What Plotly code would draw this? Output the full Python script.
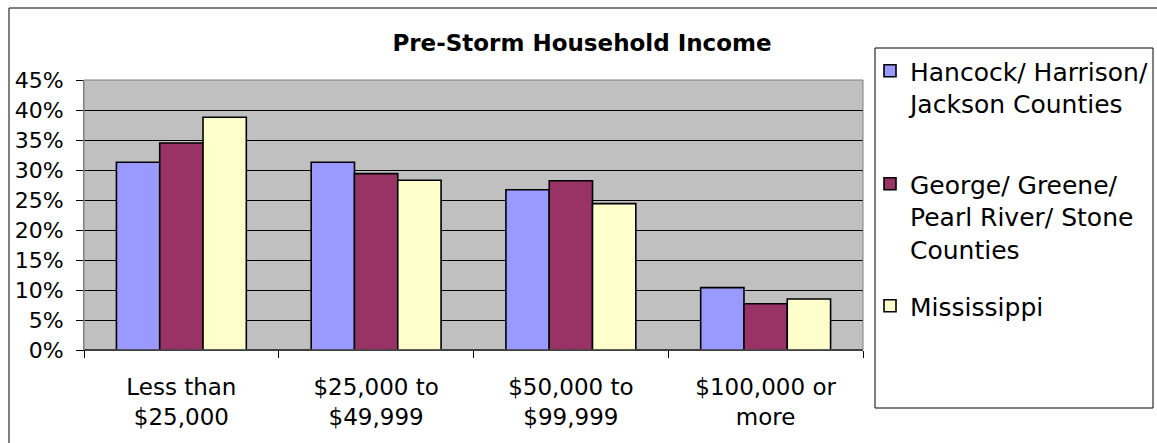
import plotly.graph_objects as go

categories = ["Less than<br>$25,000", "$25,000 to<br>$49,999", "$50,000 to<br>$99,999", "$100,000 or<br>more"]
series_names = ["Hancock/ Harrison/<br>Jackson Counties", "George/ Greene/<br>Pearl River/ Stone<br>Counties", "Mississippi"]
hancock = [0.313, 0.313, 0.267, 0.104]
george = [0.345, 0.294, 0.282, 0.077]
mississippi = [0.388, 0.283, 0.244, 0.085]
colors = ["#9999FF", "#993366", "#FFFFCC"]

FONT = "DejaVu Sans, Arial, sans-serif"
W, H = 1157, 443
ML, MR, MT, MB = 84, 1157 - 863, 80, 443 - 350
PW, PH = W - ML - MR, H - MT - MB

def px_x(x):
    return (x - ML) / PW

def px_y(y):
    return (H - MB - y) / PH

legend_ids = ["legend", "legend2", "legend3"]
legend_tops = [48, 161, 283]

fig = go.Figure()
for name, vals, col, lg in zip(series_names, [hancock, george, mississippi], colors, legend_ids):
    fig.add_trace(go.Bar(x=categories, y=vals, name=name, legend=lg,
                         marker=dict(color=col, line=dict(color="black", width=1.6))))

legend_common = dict(x=px_x(870), xanchor="left", xref="paper", yref="container",
                     yanchor="top", font=dict(family=FONT, size=25, color="black"),
                     bgcolor="rgba(0,0,0,0)", borderwidth=0, valign="top")

fig.update_layout(
    width=W, height=H,
    margin=dict(l=ML, r=MR, t=MT, b=MB, autoexpand=False),
    paper_bgcolor="white",
    plot_bgcolor="#C0C0C0",
    barmode="group", bargap=0.333, bargroupgap=0,
    font=dict(family=FONT, color="black", size=22),
    title=dict(text="<b>Pre-Storm Household Income</b>", x=px_x(582), xref="paper",
               xanchor="center", y=1 - 43 / H, yref="container", yanchor="middle",
               font=dict(family=FONT, size=23, color="black")),
    legend=dict(y=1 - legend_tops[0] / H, **legend_common),
    legend2=dict(y=1 - legend_tops[1] / H, **legend_common),
    legend3=dict(y=1 - legend_tops[2] / H, **legend_common),
    showlegend=True,
)
fig.update_xaxes(showgrid=False, showline=True, linecolor="black", linewidth=1,
                 ticks="outside", tickson="boundaries", ticklen=7, tickcolor="black",
                 ticklabelstandoff=16,
                 tickfont=dict(family=FONT, size=23, color="black"))
fig.update_yaxes(range=[0, 0.45], dtick=0.05, tickformat=".0%", showgrid=True,
                 gridcolor="black", gridwidth=1, showline=True, linecolor="#808080",
                 ticks="outside", ticklen=7, tickcolor="black", zeroline=True,
                 zerolinecolor="black", ticklabelstandoff=8,
                 tickfont=dict(family=FONT, size=22, color="black"))

# legend box, plot border, chart border
fig.add_shape(type="rect", xref="paper", yref="paper", x0=px_x(875), x1=px_x(1153),
              y0=px_y(48), y1=px_y(408), line=dict(color="black", width=1), layer="below")
fig.add_shape(type="rect", xref="paper", yref="paper", x0=0, x1=1, y0=0, y1=1,
              line=dict(color="#808080", width=1))
fig.add_shape(type="rect", xref="paper", yref="paper", x0=px_x(9), x1=px_x(1200),
              y0=px_y(8), y1=px_y(500), line=dict(color="black", width=1), layer="below")

fig.write_html("out.html", config={"displayModeBar": False},
               post_script="document.body.style.margin='0';")
